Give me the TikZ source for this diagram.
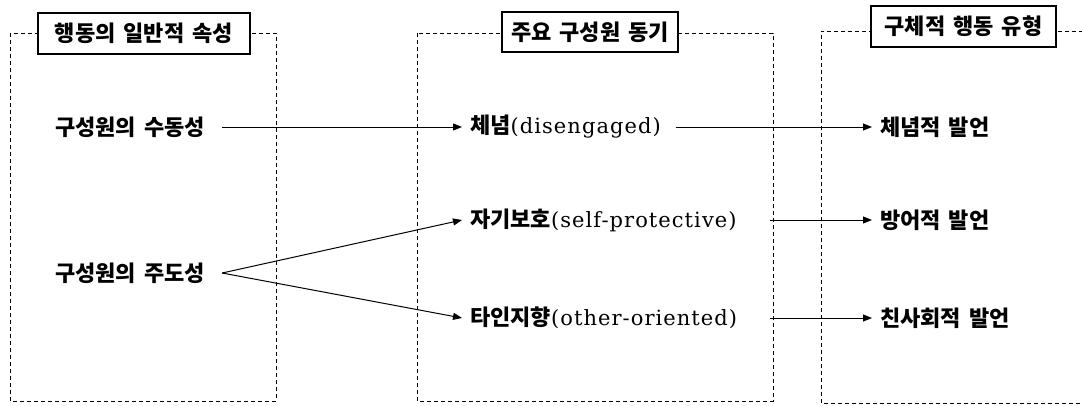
\documentclass[tikz,border=0pt]{standalone}
\usepackage{fontspec}
\setmainfont{DejaVu Serif}[LetterSpace=5]
\newfontfamily\kr{Noto Sans CJK KR}[WordSpace=1.6]
\newcommand\krtext{\kr\bfseries\fontsize{22}{25}\selectfont}
\usetikzlibrary{arrows.meta}
\begin{document}
\begin{tikzpicture}[x=1pt,y=-1pt,
  frame/.style={draw,dash pattern=on 4pt off 3pt,line width=0.9pt},
  title/.style={draw,fill=white,line width=1.2pt,inner sep=0pt,font=\krtext},
  item/.style={anchor=west,inner sep=0pt,font=\fontsize{21}{24}\selectfont},
  link/.style={line width=1pt,-{Triangle[length=9pt,width=7pt]}}]
\useasboundingbox (0,0) rectangle (1082,405);

% three dashed panels
\draw[frame] (10,33) rectangle (276,401);
\draw[frame] (417,33) rectangle (773,401);
\draw[frame] (1090,31) -- (821,31) -- (821,403) -- (1090,403);

% panel headings
\node[title,minimum width=212pt,minimum height=41pt] (h1) at (144,33.5) {행동의 일반적 속성};
\node[title,minimum width=176pt,minimum height=40pt] (h2) at (590,32) {주요 구성원 동기};
\node[title,minimum width=185pt,minimum height=41pt] (h3) at (963.5,26.5) {구체적 행동 유형};

% general attributes
\node[item] (a1) at (55,127) {\krtext 구성원의 수동성};
\node[item] (a2) at (55,273) {\krtext 구성원의 주도성};

% member motives
\node[item] (m1) at (470,127) {{\krtext 체념}(disengaged)};
\node[item] (m2) at (470,220) {{\krtext 자기보호}(self-protective)};
\node[item] (m3) at (470,318) {{\krtext 타인지향}(other-oriented)};

% behaviour types
\node[item] (b1) at (880,127) {\krtext 체념적 발언};
\node[item] (b2) at (880,220) {\krtext 방어적 발언};
\node[item] (b3) at (880,318) {\krtext 친사회적 발언};

% connectors
\coordinate (fork) at ([xshift=17pt]a2.east);
\draw[link] (a1.east -| fork) -- ([xshift=-8pt]m1.west);
\draw[link] (fork) -- ([xshift=-8pt]m2.west);
\draw[link] (fork) -- ([xshift=-8pt]m3.west);
\draw[link] ([xshift=15pt]m1.east) -- ([xshift=-8pt]b1.west);
\draw[link] (770,0 |- m2.east) -- ([xshift=-8pt]b2.west);
\draw[link] (770,0 |- m3.east) -- ([xshift=-8pt]b3.west);
\end{tikzpicture}
\end{document}
